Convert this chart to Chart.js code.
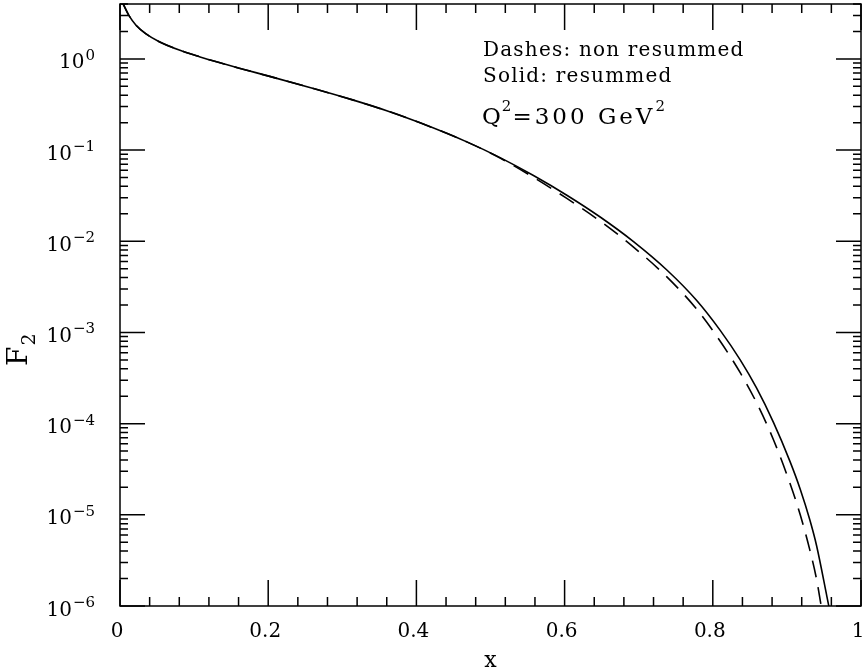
<!DOCTYPE html>
<html>
<head>
<meta charset="utf-8">
<script src="https://cdn.jsdelivr.net/npm/chart.js@4.4.1/dist/chart.umd.min.js"></script>
<style>
  html, body { margin: 0; padding: 0; background: #fff; }
</style>
</head>
<body>
<canvas id="f2Chart" width="864" height="672"></canvas>
<script>
// F2 structure function at Q^2 = 300 GeV^2
const xResummed = [0.003, 0.0045, 0.0126, 0.0216, 0.0351, 0.053, 0.080, 0.107, 0.135, 0.166, 0.202, 0.261, 0.315, 0.360, 0.405, 0.468, 0.513, 0.558, 0.603, 0.648, 0.693, 0.738, 0.778, 0.810, 0.837, 0.859, 0.882, 0.904, 0.918, 0.931, 0.940, 0.954, 0.958];
const f2Resummed = [4.19, 3.96, 2.94, 2.34, 1.88, 1.544, 1.25, 1.057, 0.905, 0.771, 0.643, 0.473, 0.353, 0.270, 0.199, 0.123, 0.0826, 0.0526, 0.0320, 0.01845, 0.00991, 0.00484, 0.002254, 0.001054, 5.0e-4, 2.46e-4, 1.026e-4, 3.88e-5, 1.91e-5, 8.77e-6, 4.61e-6, 1.27e-6, 8.7e-7];

const xNonResummed = [0.003, 0.0045, 0.0126, 0.0216, 0.0351, 0.053, 0.080, 0.107, 0.135, 0.166, 0.202, 0.261, 0.315, 0.360, 0.405, 0.468, 0.513, 0.558, 0.603, 0.648, 0.693, 0.738, 0.778, 0.810, 0.837, 0.859, 0.882, 0.904, 0.918, 0.931, 0.940, 0.948];
const f2NonResummed = [4.19, 3.96, 2.94, 2.34, 1.88, 1.544, 1.25, 1.057, 0.905, 0.771, 0.643, 0.473, 0.353, 0.270, 0.199, 0.123, 0.0817, 0.0502, 0.0295, 0.01663, 0.00863, 0.00407, 0.001811, 8.0e-4, 3.62e-4, 1.70e-4, 6.62e-5, 2.23e-5, 1.0e-5, 4.10e-6, 1.97e-6, 8.2e-7];

// axes
const xMin = 0, xMax = 1;
const yMin = 1e-6, yMax = 4;
const xTickLabels = [0, 0.2, 0.4, 0.6, 0.8, 1];
const xMinorStep = 0.04;
const yExponents = [-6, -5, -4, -3, -2, -1, 0];
const yMinorMultipliers = [2, 3, 4, 5, 6, 7, 8, 9];

const noteLines = ['Dashes: non resummed', 'Solid: resummed'];

function toPoints(xs, ys) {
    return xs.map((v, i) => ({ x: v, y: ys[i] }));
}

// frame, inward ticks on all four sides and all the text
const frameAndText = {
    id: 'frameAndText',
    afterDraw(chart) {
        const ctx = chart.ctx;
        const a = chart.chartArea;
        const sx = chart.scales.x, sy = chart.scales.y;
        ctx.save();
        ctx.strokeStyle = '#000';
        ctx.fillStyle = '#000';
        ctx.lineWidth = 1.5;
        ctx.strokeRect(a.left, a.top, a.right - a.left, a.bottom - a.top);

        ctx.beginPath();
        const nx = Math.round((xMax - xMin) / xMinorStep);
        for (let i = 0; i <= nx; i++) {
            const px = sx.getPixelForValue(xMin + i * xMinorStep);
            const len = i % 5 === 0 ? 26 : 9;
            ctx.moveTo(px, a.bottom); ctx.lineTo(px, a.bottom - len);
            ctx.moveTo(px, a.top); ctx.lineTo(px, a.top + len);
        }
        yExponents.forEach(e => {
            const major = Math.pow(10, e);
            let py = sy.getPixelForValue(major);
            ctx.moveTo(a.left, py); ctx.lineTo(a.left + 25, py);
            ctx.moveTo(a.right, py); ctx.lineTo(a.right - 25, py);
            yMinorMultipliers.forEach(m => {
                const v = m * major;
                if (v > yMax) return;
                py = sy.getPixelForValue(v);
                ctx.moveTo(a.left, py); ctx.lineTo(a.left + 8, py);
                ctx.moveTo(a.right, py); ctx.lineTo(a.right - 8, py);
            });
        });
        ctx.stroke();

        // x tick labels
        ctx.font = '20px "DejaVu Serif"';
        ctx.textAlign = 'center';
        ctx.textBaseline = 'alphabetic';
        xTickLabels.forEach(v => {
            ctx.fillText(String(v), sx.getPixelForValue(v) - 3, a.bottom + 31);
        });

        // y tick labels 10^n
        ctx.textAlign = 'left';
        yExponents.forEach(e => {
            const py = sy.getPixelForValue(Math.pow(10, e));
            const sup = e < 0 ? '\u2212' + (-e) : String(e);
            ctx.font = '15px "DejaVu Serif"';
            const supW = ctx.measureText(sup).width;
            ctx.font = '20px "DejaVu Serif"';
            const baseW = ctx.measureText('10').width;
            const x0 = 94 - supW - baseW;
            ctx.fillText('10', x0, py + 9.5);
            ctx.font = '15px "DejaVu Serif"';
            ctx.fillText(sup, x0 + baseW + 1, py + 1);
        });

        // axis titles
        ctx.font = '22px "DejaVu Serif"';
        ctx.textAlign = 'center';
        ctx.fillText('x', (a.left + a.right) / 2, 667);

        ctx.save();
        ctx.translate(27, 366);
        ctx.rotate(-Math.PI / 2);
        ctx.textAlign = 'left';
        ctx.font = '28px "DejaVu Serif"';
        ctx.fillText('F', 0, 0);
        const fW = ctx.measureText('F').width;
        ctx.font = '19px "DejaVu Serif"';
        ctx.fillText('2', fW + 1, 8);
        ctx.restore();

        // notes in the upper right
        ctx.textAlign = 'left';
        ctx.font = '20px "DejaVu Serif"';
        ctx.letterSpacing = '1.2px';
        ctx.fillText(noteLines[0], 483, 56);
        ctx.fillText(noteLines[1], 483, 82);

        ctx.font = '23px "DejaVu Serif"';
        ctx.letterSpacing = '0px';
        ctx.fillText('Q', 482, 124);
        let cx = 482 + ctx.measureText('Q').width + 1;
        ctx.font = '15px "DejaVu Serif"';
        ctx.fillText('2', cx, 111);
        cx += ctx.measureText('2').width + 1;
        ctx.font = '23px "DejaVu Serif"';
        ctx.letterSpacing = '3px';
        ctx.fillText('=300 GeV', cx, 124);
        cx += ctx.measureText('=300 GeV').width;
        ctx.letterSpacing = '0px';
        ctx.font = '15px "DejaVu Serif"';
        ctx.fillText('2', cx, 111);
        ctx.restore();
    }
};

new Chart(document.getElementById('f2Chart').getContext('2d'), {
    type: 'line',
    data: {
        datasets: [{
            label: 'resummed',
            data: toPoints(xResummed, f2Resummed),
            borderColor: '#000',
            borderWidth: 1.6,
            pointRadius: 0,
            fill: false,
            cubicInterpolationMode: 'monotone'
        }, {
            label: 'non resummed',
            data: toPoints(xNonResummed, f2NonResummed),
            borderColor: '#000',
            borderWidth: 1.6,
            borderDash: [17, 10],
            pointRadius: 0,
            fill: false,
            cubicInterpolationMode: 'monotone'
        }]
    },
    options: {
        responsive: false,
        animation: false,
        devicePixelRatio: 1,
        layout: { padding: { left: 120, top: 4, right: 3, bottom: 66 } },
        plugins: {
            legend: { display: false },
            tooltip: { enabled: false }
        },
        scales: {
            x: { type: 'linear', min: xMin, max: xMax, display: false },
            y: { type: 'logarithmic', min: yMin, max: yMax, display: false }
        }
    },
    plugins: [frameAndText]
});
</script>
</body>
</html>
